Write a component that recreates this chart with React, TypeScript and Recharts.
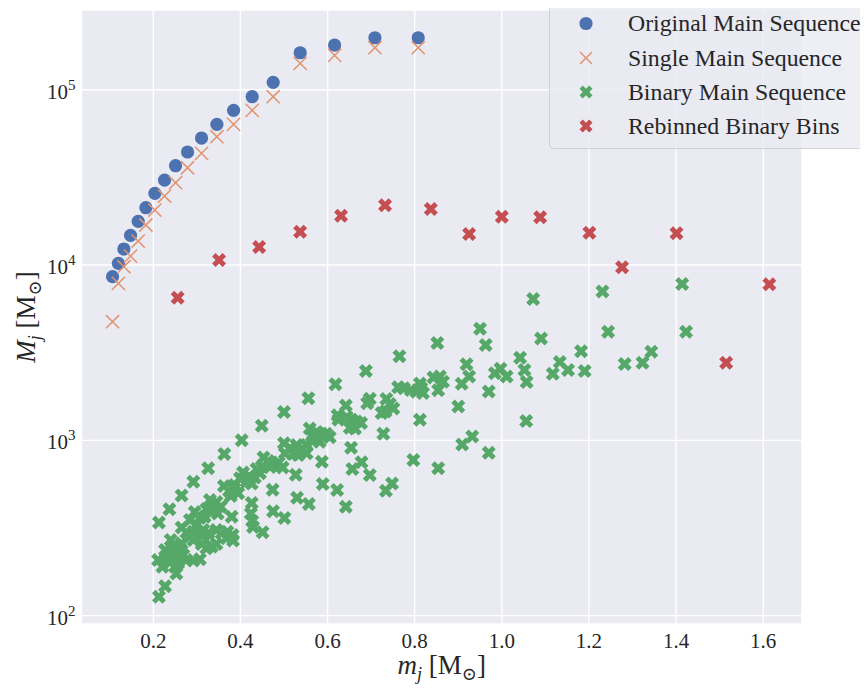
import React from 'react';
import { ScatterChart, Scatter, XAxis, YAxis, CartesianGrid } from 'recharts';

// ---------------------------------------------------------------------------
// Data
// ---------------------------------------------------------------------------

// Stellar mass bins of the main sequence [M_sun]
const mainSeqMass = [
  0.1065, 0.1199, 0.1325, 0.1478, 0.1653, 0.183, 0.2036, 0.2259, 0.2511, 0.2787,
  0.3108, 0.346, 0.3843, 0.427, 0.4752, 0.5372, 0.6162, 0.7087, 0.8081,
];
// Total mass per bin, original main sequence [M_sun]
const originalTotal = [
  8580, 10230, 12340, 14770, 17760, 21230, 25650, 30530, 36860, 44130,
  53030, 63480, 76290, 91230, 110200, 162600, 179900, 197900, 197900,
];
// Total mass per bin after removing binaries [M_sun]
const singleTotal = [
  4750, 7860, 9780, 11250, 13710, 16920, 20590, 24750, 29480, 35890,
  43370, 53950, 63480, 76290, 91230, 141500, 157100, 173600, 173600,
];

// Binary systems: combined mass and total mass
const binaryMass = [
  0.852, 0.95, 0.963, 1.09, 1.042, 1.072, 1.231, 1.244, 1.414, 1.423,
  1.182, 1.133, 1.152, 1.117, 1.19, 1.282, 1.323, 1.343, 0.919, 0.925,
  0.908, 0.997, 0.984, 1.011, 1.052, 1.057, 0.843, 0.858, 0.865, 0.854,
  0.812, 0.819, 0.804, 0.815, 0.97, 0.9, 0.812, 1.056, 0.932, 0.909,
  0.97, 0.854, 0.797, 0.765, 0.688, 0.618, 0.762, 0.775, 0.791, 0.556,
  0.697, 0.691, 0.735, 0.743, 0.751, 0.724, 0.733, 0.642, 0.623, 0.625,
  0.644, 0.655, 0.666, 0.677, 0.651, 0.663, 0.728, 0.5, 0.449, 0.403,
  0.559, 0.564, 0.575, 0.586, 0.597, 0.605, 0.582, 0.567, 0.5, 0.514,
  0.529, 0.542, 0.552, 0.521, 0.533, 0.552, 0.502, 0.654, 0.363, 0.453,
  0.464, 0.475, 0.449, 0.488, 0.497, 0.437, 0.445, 0.468, 0.587, 0.678,
  0.326, 0.406, 0.422, 0.433, 0.414, 0.426, 0.399, 0.527, 0.657, 0.697,
  0.292, 0.362, 0.374, 0.385, 0.395, 0.378, 0.387, 0.589, 0.622, 0.748,
  0.734, 0.265, 0.474, 0.53, 0.557, 0.426, 0.424, 0.427, 0.429, 0.33,
  0.345, 0.337, 0.355, 0.322, 0.334, 0.348, 0.237, 0.642, 0.475, 0.501,
  0.295, 0.307, 0.318, 0.284, 0.299, 0.315, 0.38, 0.213, 0.265, 0.276,
  0.284, 0.292, 0.292, 0.345, 0.357, 0.37, 0.382, 0.383, 0.368, 0.326,
  0.315, 0.451, 0.24, 0.246, 0.227, 0.253, 0.265, 0.269, 0.311, 0.322,
  0.334, 0.345, 0.261, 0.253, 0.211, 0.221, 0.231, 0.238, 0.25, 0.257,
  0.276, 0.292, 0.307, 0.25, 0.253, 0.227, 0.213,
];
const binaryTotal = [
  3590, 4330, 3500, 3810, 2960, 6400, 7060, 4160, 7790, 4160,
  3220, 2800, 2520, 2400, 2490, 2730, 2770, 3200, 2720, 2310,
  2100, 2560, 2410, 2310, 2520, 2150, 2280, 2310, 2160, 1930,
  2110, 1860, 1890, 1990, 1900, 1560, 1310, 1290, 1050, 946,
  850, 692, 772, 3015, 2490, 2090, 2010, 1980, 1940, 1740,
  1725, 1630, 1720, 1610, 1520, 1430, 1460, 1580, 1390, 1310,
  1360, 1310, 1280, 1255, 1180, 1170, 1090, 1450, 1210, 1000,
  1170, 1060, 1115, 1090, 1090, 1040, 982, 991, 961, 904,
  940, 898, 940, 835, 825, 843, 843, 906, 835, 798,
  762, 732, 707, 747, 700, 686, 648, 704, 755, 750,
  692, 655, 620, 613, 580, 568, 607, 637, 686, 634,
  580, 549, 514, 531, 499, 481, 556, 563, 521, 568,
  516, 484, 523, 470, 433, 439, 382, 347, 320, 456,
  445, 422, 418, 406, 390, 382, 404, 418, 394, 361,
  390, 361, 367, 351, 329, 308, 367, 340, 318, 298,
  285, 301, 270, 308, 295, 301, 288, 268, 276, 295,
  288, 299, 270, 247, 237, 246, 258, 222, 256, 242,
  247, 256, 242, 227, 208, 190, 217, 201, 217, 199,
  208, 206, 210, 190, 174, 147, 128,
];

// Rebinned binary bins
const rebinMass = [
  0.256, 0.351, 0.443, 0.537, 0.631, 0.732, 0.837, 0.925, 1.0, 1.088,
  1.201, 1.276, 1.401, 1.515, 1.614,
];
const rebinTotal = [
  6510, 10680, 12660, 15490, 19110, 21900, 20870, 15030, 18860, 18710,
  15280, 9700, 15170, 2770, 7760,
];

const massTicks = [0.2, 0.4, 0.6, 0.8, 1.0, 1.2, 1.4, 1.6];
const totalTicks = [100, 1000, 10000, 100000];

const seriesNames = [
  'Original Main Sequence',
  'Single Main Sequence',
  'Binary Main Sequence',
  'Rebinned Binary Bins',
];

// ---------------------------------------------------------------------------
// Styling
// ---------------------------------------------------------------------------

const FONT = '"Liberation Serif", "DejaVu Serif", serif';
const TEXT = '#262626';
const BG = '#EAEAF2';
const BLUE = '#4C72B0';
const ORANGE = '#E29470';
const GREEN = '#55A868';
const RED = '#C44E52';

const zip = (xs: number[], ys: number[]) => xs.map((x, i) => ({ x, y: ys[i] }));

const originalData = zip(mainSeqMass, originalTotal);
const singleData = zip(mainSeqMass, singleTotal);
const binaryData = zip(binaryMass, binaryTotal);
const rebinData = zip(rebinMass, rebinTotal);

// ---------------------------------------------------------------------------
// Marker shapes
// ---------------------------------------------------------------------------

const CircleMarker = ({ cx, cy, r = 6.6, color = BLUE }: any) => (
  <circle cx={cx} cy={cy} r={r} fill={color} />
);

const ThinCross = ({ cx, cy, h = 6.6, color = ORANGE }: any) => (
  <path
    d={`M${cx - h},${cy - h}L${cx + h},${cy + h}M${cx - h},${cy + h}L${cx + h},${cy - h}`}
    stroke={color}
    strokeWidth={1.5}
    fill="none"
  />
);

// Filled "X" marker (plus sign rotated by 45 degrees)
const xFilledPts = [
  [-1, -2], [0, -1], [1, -2], [2, -1], [1, 0], [2, 1],
  [1, 2], [0, 1], [-1, 2], [-2, 1], [-1, 0], [-2, -1],
];
const FilledCross = ({ cx, cy, size = 14, color = GREEN }: any) => {
  const k = size / 4;
  const d =
    xFilledPts
      .map(([px, py], i) => `${i === 0 ? 'M' : 'L'}${cx + px * k},${cy + py * k}`)
      .join('') + 'Z';
  return <path d={d} fill={color} />;
};

// ---------------------------------------------------------------------------
// Axis ticks and labels
// ---------------------------------------------------------------------------

const MassTick = ({ x, y, payload }: any) => (
  <text
    x={x}
    y={y + 24}
    textAnchor="middle"
    fontFamily={FONT}
    fontSize={21}
    fill={TEXT}
  >
    {Number(payload.value).toFixed(1)}
  </text>
);

const TotalTick = ({ x, y, payload }: any) => {
  const exp = Math.round(Math.log10(payload.value));
  return (
    <text
      x={x - 6}
      y={y + 9}
      textAnchor="end"
      fontFamily={FONT}
      fontSize={21}
      fill={TEXT}
    >
      <tspan>10</tspan>
      <tspan dy={-9} fontSize={15}>
        {exp}
      </tspan>
    </text>
  );
};

const MassLabel = ({ sym }: { sym: string }) => (
  <>
    <tspan fontStyle="italic">{sym}</tspan>
    <tspan fontStyle="italic" fontSize={18} dy={6}>j</tspan>
    <tspan dy={-6}>{'\u00A0[M'}</tspan>
    <tspan fontSize={18} dy={6}>⊙</tspan>
    <tspan dy={-6}>]</tspan>
  </>
);

const XLabel = ({ viewBox }: any) => {
  const cx = viewBox.x + viewBox.width / 2;
  const y = viewBox.y + 50;
  return (
    <text x={cx} y={y} textAnchor="middle" fontFamily={FONT} fontSize={27} fill={TEXT}>
      <MassLabel sym="m" />
    </text>
  );
};

const YLabel = ({ viewBox }: any) => {
  const x = 27;
  const cy = viewBox.y + viewBox.height / 2;
  return (
    <text
      x={x}
      y={cy}
      transform={`rotate(-90 ${x} ${cy})`}
      textAnchor="middle"
      fontFamily={FONT}
      fontSize={27}
      fill={TEXT}
    >
      <MassLabel sym="M" />
    </text>
  );
};

// ---------------------------------------------------------------------------
// Legend
// ---------------------------------------------------------------------------

const legendRows = [20.5, 55, 89, 123];

const LegendBox = () => (
  <svg
    width={319}
    height={147}
    style={{ position: 'absolute', left: 541, top: -5, overflow: 'hidden' }}
  >
    <rect
      x={0.5}
      y={0.5}
      width={340}
      height={145}
      rx={4}
      fill={BG}
      fillOpacity={0.8}
      stroke="#cccccc"
      strokeOpacity={0.8}
    />
    <CircleMarker cx={37} cy={legendRows[0]} />
    <ThinCross cx={37} cy={legendRows[1]} h={6} />
    <FilledCross cx={37} cy={legendRows[2]} size={13} color={GREEN} />
    <FilledCross cx={37} cy={legendRows[3]} size={13} color={RED} />
    {seriesNames.map((name, i) => (
      <text
        key={name}
        x={79}
        y={legendRows[i] + 7.5}
        fontFamily={FONT}
        fontSize={23.8}
        fill={TEXT}
      >
        {name}
      </text>
    ))}
  </svg>
);

// ---------------------------------------------------------------------------
// Chart
// ---------------------------------------------------------------------------

export default function App() {
  return (
    <div style={{ position: 'relative', width: 860, height: 682 }}>
      <ScatterChart
        width={860}
        height={682}
        margin={{ top: 2, right: 66, bottom: 0, left: 0 }}
        style={{ fontFamily: FONT }}
      >
        <CartesianGrid fill={BG} fillOpacity={1} stroke="#ffffff" strokeWidth={1.4} />
        <XAxis
          type="number"
          dataKey="x"
          domain={[0.035, 1.689]}
          ticks={massTicks}
          allowDataOverflow
          axisLine={false}
          tickLine={false}
          tickSize={0}
          tickMargin={0}
          height={66}
          tick={<MassTick />}
          label={<XLabel />}
        />
        <YAxis
          type="number"
          dataKey="y"
          scale="log"
          domain={[89.6, 285000]}
          ticks={totalTicks}
          allowDataOverflow
          axisLine={false}
          tickLine={false}
          tickSize={0}
          tickMargin={0}
          width={73.4}
          tick={<TotalTick />}
          label={<YLabel />}
        />
        <Scatter
          name={seriesNames[0]}
          data={originalData}
          isAnimationActive={false}
          shape={(p: any) => <CircleMarker cx={p.cx} cy={p.cy} />}
        />
        <Scatter
          name={seriesNames[1]}
          data={singleData}
          isAnimationActive={false}
          shape={(p: any) => <ThinCross cx={p.cx} cy={p.cy} />}
        />
        <Scatter
          name={seriesNames[2]}
          data={binaryData}
          isAnimationActive={false}
          shape={(p: any) => <FilledCross cx={p.cx} cy={p.cy} color={GREEN} />}
        />
        <Scatter
          name={seriesNames[3]}
          data={rebinData}
          isAnimationActive={false}
          shape={(p: any) => <FilledCross cx={p.cx} cy={p.cy} color={RED} />}
        />
      </ScatterChart>
      <LegendBox />
    </div>
  );
}
